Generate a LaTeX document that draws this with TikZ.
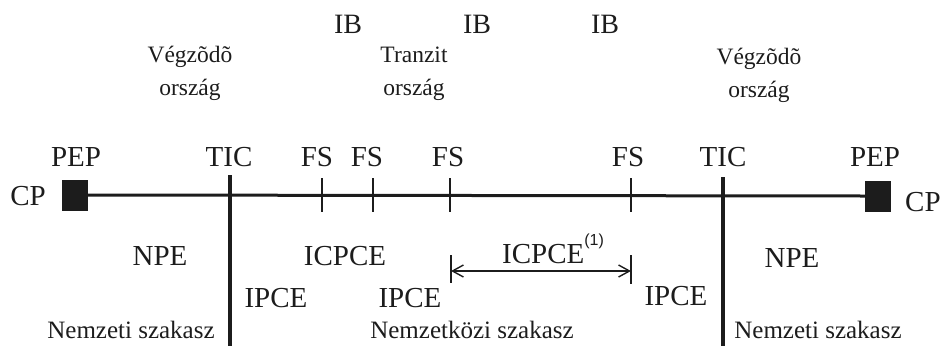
\documentclass[tikz,border=0pt]{standalone}
\usepackage{fontspec}
\setmainfont{Liberation Serif}
\newfontfamily\supfont{Liberation Sans}
\usetikzlibrary{arrows.meta}
\definecolor{ink}{HTML}{1C1C1C}
\begin{document}
\begin{tikzpicture}[x=1pt,y=-1pt,
  every node/.style={text=ink, inner sep=0pt},
  big/.style={font=\fontsize{29}{30}\selectfont, anchor=base},
  ibl/.style={font=\fontsize{28}{30}\selectfont, anchor=base},
  sect/.style={font=\fontsize{25}{27}\selectfont, anchor=base},
  country/.style={font=\fontsize{23.5}{33}\selectfont, anchor=base, align=center},
  endpoint/.style={fill=ink, draw=none, minimum width=26pt, minimum height=31pt},
  trunk/.style={draw=ink, line width=3pt},
  tick/.style={draw=ink, line width=2.6pt},
  border/.style={draw=ink, line width=3.2pt},
  span/.style={draw=ink, line width=1.4pt, {Straight Barb[length=11pt,width=12pt,line width=1.4pt]}-{Straight Barb[length=11pt,width=12pt,line width=1.4pt]}},
  spanbar/.style={draw=ink, line width=1.6pt}]
\useasboundingbox (0,0) rectangle (940,349);

% interconnection bridges
\node[ibl] (ib1) at (348,33) {IB};
\node[ibl] (ib2) at (477,33) {IB};
\node[ibl] (ib3) at (605,33) {IB};

% countries (anchored at the baseline of the second line)
\node[country] (cl) at (190,95) {Végzõdõ\\ország};
\node[country] (ct) at (414,95) {Tranzit\\ország};
\node[country] (cr) at (759,97) {Végzõdõ\\ország};

% end points of the trunk
\node[endpoint] (sqL) at (75,195) {};
\node[endpoint] (sqR) at (878,196) {};
\node[big] (cpL) at (28,205) {CP};
\node[big, anchor=base west] (cpR) at (905,211) {CP};
\node[big] (pepL) at (76,166) {PEP};
\node[big] (pepR) at (875,166) {PEP};

% trunk line
\draw[trunk] (sqL.east) -- (sqR.west);

% TIC borders
\coordinate (ticLt) at (230,175);
\coordinate (ticLb) at (230,346);
\coordinate (ticRt) at (723,177);
\coordinate (ticRb) at (723,346);
\draw[border] (ticLt) -- (ticLb);
\draw[border] (ticRt) -- (ticRb);
\node[big] (ticL) at (229,166) {TIC};
\node[big] (ticR) at (723,166) {TIC};

% frontier stations
\foreach \n/\x/\lx in {1/322/317, 2/373/367, 3/450/448, 4/631/628}{
  \coordinate (fs\n t) at (\x,178);
  \coordinate (fs\n b) at (\x,212);
  \draw[tick] (fs\n t) -- (fs\n b);
  \node[big] (fs\n) at (\lx,166) {FS};
}

% network sections
\node[big] (npeL) at (160,265) {NPE};
\node[big] (icpce) at (345,265) {ICPCE};
\node[big] (npeR) at (792,267) {NPE};
\node[big] (ipce1) at (276,307) {IPCE};
\node[big] (ipce2) at (410,307) {IPCE};
\node[big] (ipce3) at (676,305) {IPCE};

% international span
\coordinate (spLt) at (451,255);
\coordinate (spLb) at (451,283);
\coordinate (spRt) at (631,255);
\coordinate (spRb) at (631,284);
\coordinate (spL) at (451,271);
\coordinate (spR) at (631,271);
\draw[spanbar] (spLt) -- (spLb);
\draw[spanbar] (spRt) -- (spRb);
\draw[span] (spL) -- (spR);
\node[big] (icpce1) at (553,263) {ICPCE\raisebox{0.62em}{\supfont\fontsize{16}{18}\selectfont (1)}};

% sections
\node[sect] (secL) at (131,338) {Nemzeti szakasz};
\node[sect] (secM) at (472,338) {Nemzetközi szakasz};
\node[sect] (secR) at (818,338) {Nemzeti szakasz};
\end{tikzpicture}
\end{document}
